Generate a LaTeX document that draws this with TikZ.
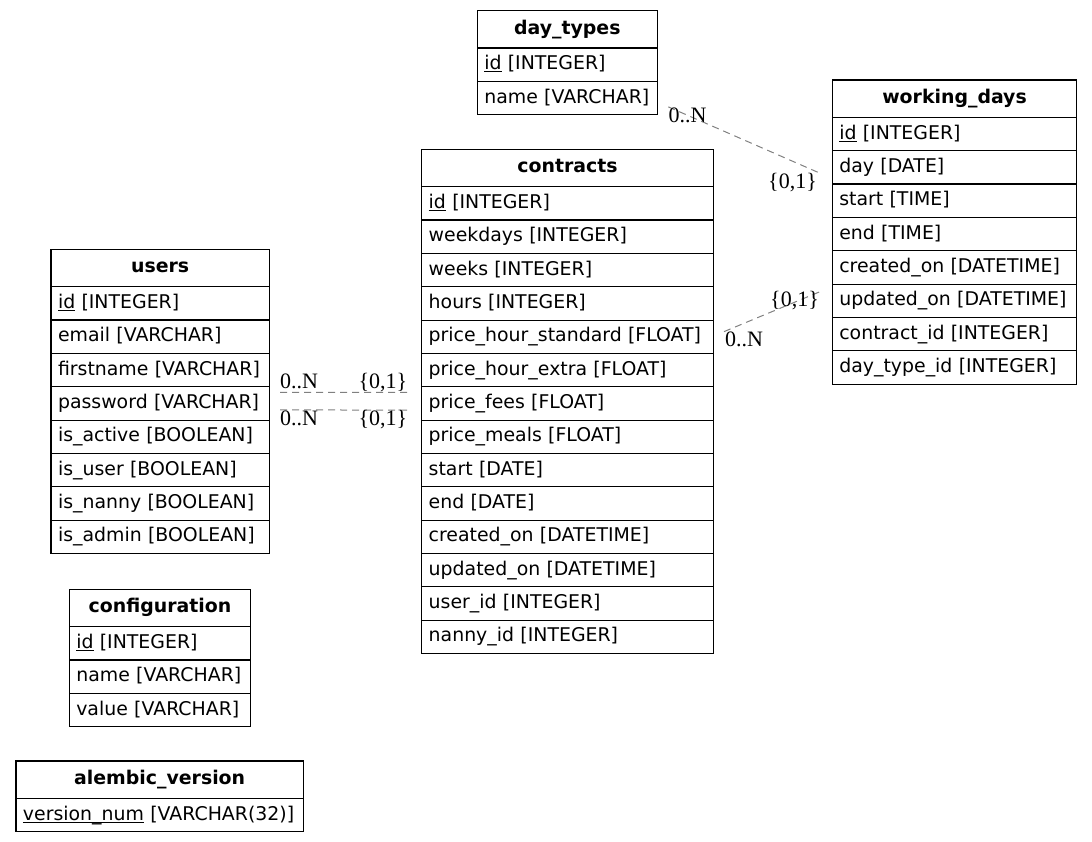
\documentclass[tikz,border=0pt]{standalone}
\usepackage{fontspec}
\setmainfont{DejaVu Sans}
\newfontfamily\lblfont{Liberation Serif}
\definecolor{edgegray}{RGB}{128,128,128}
\newcommand\pk[1]{\setbox0\hbox{#1}\rlap{\rule[-2.6pt]{\wd0}{1.1pt}}\box0\relax}
\tikzset{
  tbl/.style={draw=black, line width=1.1pt, outer sep=0pt, inner xsep=7pt, inner ysep=0pt,
    anchor=north west, font=\fontsize{18.9pt}{22pt}\selectfont},
  hdr/.style={tbl, minimum height=37.35pt, align=center, text height=13.6pt, text depth=3.6pt,
    font=\fontsize{18.9pt}{22pt}\selectfont\bfseries},
  rowbox/.style={tbl, minimum height=33.35pt, align=left, text height=13.6pt, text depth=3.6pt},
  rel/.style={draw=edgegray, line width=1pt, dash pattern=on 7pt off 5pt},
  card/.style={inner sep=0pt, font=\fontsize{22pt}{26pt}\selectfont\lblfont},
}
\newcommand\dbtable[5]{%
  \node[hdr, text width=#4-14pt] (#1) at (#2,#3) {#5};
}
\newcommand\dbrows[5]{%
  \foreach \r [count=\i] in {#5} {
    \node[rowbox, text width=#4-14pt] (#1-\i) at ({#2},{#3+37.35+(\i-1)*33.35}) {\r};
  }
}
\begin{document}
\begin{tikzpicture}[x=1pt,y=-1pt]
\useasboundingbox (0,0) rectangle (1092,842);

% day_types
\dbtable{day_types}{477.3}{10.7}{180}{day\_types}
\dbrows{day_types}{477.3}{10.7}{180}{{\pk{id} [INTEGER]},{name [VARCHAR]}}

% working_days
\dbtable{working_days}{832.3}{80}{244.4}{working\_days}
\dbrows{working_days}{832.3}{80}{244.4}{{\pk{id} [INTEGER]},{day [DATE]},{start [TIME]},{end [TIME]},{created\_on [DATETIME]},{updated\_on [DATETIME]},{contract\_id [INTEGER]},{day\_type\_id [INTEGER]}}

% contracts
\dbtable{contracts}{421.7}{149.3}{291.6}{contracts}
\dbrows{contracts}{421.7}{149.3}{291.6}{{\pk{id} [INTEGER]},{weekdays [INTEGER]},{weeks [INTEGER]},{hours [INTEGER]},{price\_hour\_standard [FLOAT]},{price\_hour\_extra [FLOAT]},{price\_fees [FLOAT]},{price\_meals [FLOAT]},{start [DATE]},{end [DATE]},{created\_on [DATETIME]},{updated\_on [DATETIME]},{user\_id [INTEGER]},{nanny\_id [INTEGER]}}

% users
\dbtable{users}{51}{249.3}{218.3}{users}
\dbrows{users}{51}{249.3}{218.3}{{\pk{id} [INTEGER]},{email [VARCHAR]},{firstname [VARCHAR]},{password [VARCHAR]},{is\_active [BOOLEAN]},{is\_user [BOOLEAN]},{is\_nanny [BOOLEAN]},{is\_admin [BOOLEAN]}}

% configuration
\dbtable{configuration}{69.3}{589.3}{181.4}{configuration}
\dbrows{configuration}{69.3}{589.3}{181.4}{{\pk{id} [INTEGER]},{name [VARCHAR]},{value [VARCHAR]}}

% alembic_version
\dbtable{alembic_version}{16}{761}{287.3}{alembic\_version}
\dbrows{alembic_version}{16}{761}{287.3}{{\pk{version\_num} [VARCHAR(32)]}}

% connector end points
\coordinate (ua) at ([xshift=10.7pt,yshift=11.1pt]users-4.east);
\coordinate (ca) at ([xshift=-11.7pt,yshift=11.1pt]contracts-7.west);
\coordinate (ub) at ([xshift=10.7pt,yshift=-6.6pt]users-4.east);
\coordinate (cb) at ([xshift=-11.7pt,yshift=-6.6pt]contracts-7.west);
\coordinate (dt) at ([xshift=11pt,yshift=-8.8pt]day_types-2.east);
\coordinate (wd) at ([xshift=-10.6pt,yshift=-6.6pt]working_days-2.west);
\coordinate (cp) at ([xshift=10.7pt,yshift=5.1pt]contracts-5.east);
\coordinate (wu) at ([xshift=-11.6pt,yshift=9.4pt]working_days-6.west);

\draw[rel] (ua) -- (ca);
\draw[rel] (ub) -- (cb);
\draw[rel] (dt) -- (wd);
\draw[rel] (cp) -- (wu);

% cardinality labels
\node[card, anchor=base west] (l1) at (280,388.3) {0..N};
\node[card, anchor=base east] (l2) at (407.5,388.3) {\{0,1\}};
\node[card, anchor=base west] (l3) at (280,425) {0..N};
\node[card, anchor=base east] (l4) at (407.5,425) {\{0,1\}};
\node[card, anchor=base west] (l5) at (668.3,122.3) {0..N};
\node[card, anchor=base east] (l6) at (817,188.3) {\{0,1\}};
\node[card, anchor=base east] (l7) at (819,306.7) {\{0,1\}};
\node[card, anchor=base west] (l8) at (725,346.7) {0..N};
\end{tikzpicture}
\end{document}
